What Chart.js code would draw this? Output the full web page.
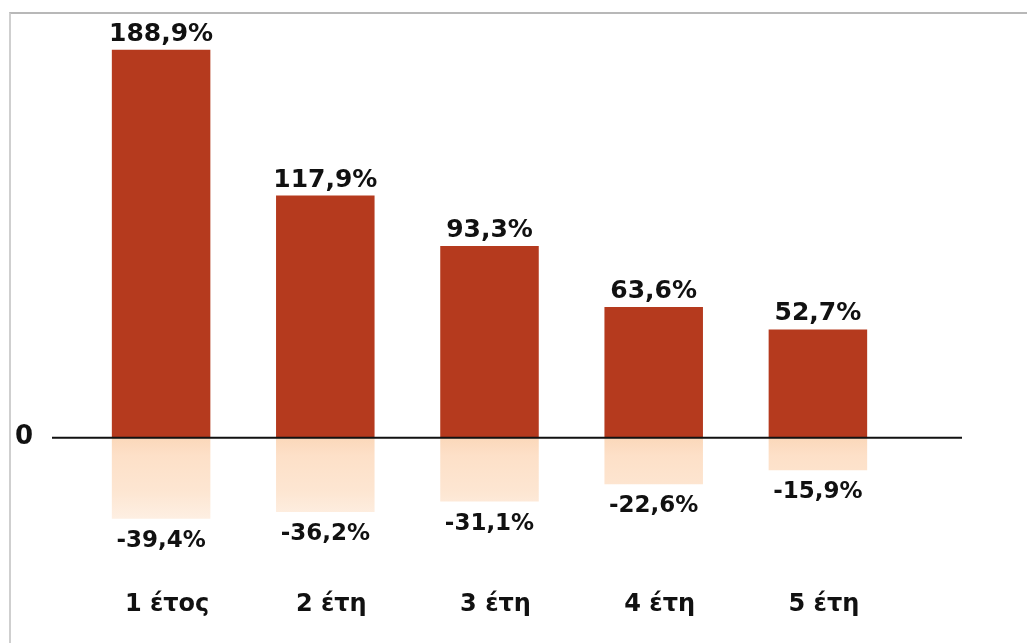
<!DOCTYPE html>
<html>
<head>
    <title>Αποδόσεις</title>
    <script src="https://cdn.jsdelivr.net/npm/chart.js"></script>
    <style>
        html, body {margin: 0; background: #fff; overflow: hidden;}
        #frame {position: absolute; left: 9px; top: 12px; width: 1030px; height: 640px;
                border-left: 2px solid #cfcfcf; border-top: 2px solid #b8b8b8;}
        #myChart {position: absolute; left: 0; top: 0;}
    </style>
</head>
<body>
    <div id="frame"></div>
    <canvas id="myChart" width="1027" height="643"></canvas>
    <script>
        var labels = ['1 έτος', '2 έτη', '3 έτη', '4 έτη', '5 έτη'];
        var bestValues = [188.9, 117.9, 93.3, 63.6, 52.7];
        var worstValues = [-39.4, -36.2, -31.1, -22.6, -15.9];

        function fmt(v) {
            return v.toFixed(1).replace('.', ',') + '%';
        }

        // labels above / below the bars, category names and the zero line
        var extras = {
            id: 'extras',
            afterDatasetsDraw: function(chart) {
                var ctx = chart.ctx;
                var area = chart.chartArea;
                var y0 = chart.scales.y.getPixelForValue(0);
                ctx.save();
                ctx.strokeStyle = '#111';
                ctx.lineWidth = 2;
                ctx.beginPath();
                ctx.moveTo(area.left - 27, y0);
                ctx.lineTo(area.right + 62, y0);
                ctx.stroke();

                ctx.fillStyle = '#111';
                ctx.textAlign = 'center';
                ctx.font = 'bold 26px "DejaVu Sans"';
                ctx.textBaseline = 'middle';
                ctx.fillText('0', 24, y0);

                chart.getDatasetMeta(0).data.forEach(function(bar, i) {
                    ctx.font = 'bold 25px "DejaVu Sans"';
                    ctx.textBaseline = 'bottom';
                    ctx.fillText(fmt(bestValues[i]), bar.x, bar.y - 3);
                });
                chart.getDatasetMeta(1).data.forEach(function(bar, i) {
                    ctx.font = 'bold 23px "DejaVu Sans"';
                    ctx.textBaseline = 'middle';
                    ctx.fillText(fmt(worstValues[i]), bar.x, bar.y + 22);
                    ctx.font = 'bold 24px "DejaVu Sans"';
                    ctx.fillText(labels[i], bar.x + 6, area.bottom + 3);
                });
                ctx.restore();
            }
        };

        var ctx = document.getElementById('myChart').getContext('2d');
        new Chart(ctx, {
            type: 'bar',
            data: {
                labels: labels,
                datasets: [{
                    data: bestValues,
                    backgroundColor: '#b53a1e'
                }, {
                    data: worstValues,
                    backgroundColor: function(c) {
                        var area = c.chart.chartArea;
                        if (!area) return '#fde2cc';
                        var y0 = c.chart.scales.y.getPixelForValue(0);
                        var g = c.chart.ctx.createLinearGradient(0, y0, 0, y0 + 90);
                        g.addColorStop(0, '#fbd8ba');
                        g.addColorStop(0.2, '#fde0c8');
                        g.addColorStop(0.6, '#fde6d2');
                        g.addColorStop(1, '#fef2e8');
                        return g;
                    }
                }]
            },
            options: {
                responsive: false,
                animation: false,
                layout: {padding: {left: 79, right: 127, top: 27, bottom: 41}},
                plugins: {
                    legend: {display: false},
                    tooltip: {enabled: false}
                },
                datasets: {
                    bar: {barPercentage: 0.6, categoryPercentage: 1}
                },
                scales: {
                    x: {display: false, stacked: true},
                    y: {display: false, stacked: true, min: -80, max: 200}
                }
            },
            plugins: [extras]
        });
    </script>
</body>
</html>
